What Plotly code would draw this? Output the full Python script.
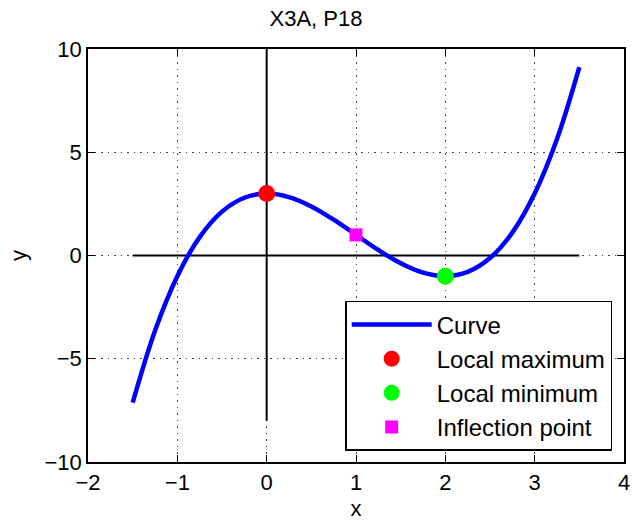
import plotly.graph_objects as go

curve_x = [-1.5, -1.25, -1.0, -0.75, -0.5, -0.25, 0.0, 0.25, 0.5, 0.75, 1.0,
           1.25, 1.5, 1.75, 2.0, 2.25, 2.5, 2.75, 3.0, 3.25, 3.5]
curve_y = [-7.125, -3.641, -1.0, 0.891, 2.125, 2.797, 3.0, 2.828, 2.375, 1.734, 1.0,
           0.266, -0.375, -0.828, -1.0, -0.797, -0.125, 1.109, 3.0, 5.641, 9.125]

hline_x = [-1.5, 3.5]
hline_y = [0, 0]
vline_x = [0, 0]
vline_y = [-8, 10]

max_x, max_y = [0], [3]
min_x, min_y = [2], [-1]
infl_x, infl_y = [1], [1]

x_ticks = [-2, -1, 0, 1, 2, 3, 4]
y_ticks = [-10, -5, 0, 5, 10]
x_ticklabels = ["\u22122", "\u22121", "0", "1", "2", "3", "4"]
y_ticklabels = ["\u221210", "\u22125", "0", "5", "10"]

font = "Liberation Sans, Arial, Helvetica, sans-serif"
fs = 22

fig = go.Figure()
fig.add_trace(go.Scatter(x=hline_x, y=hline_y, mode="lines",
                         line=dict(color="black", width=2), showlegend=False))
fig.add_trace(go.Scatter(x=vline_x, y=vline_y, mode="lines",
                         line=dict(color="black", width=2), showlegend=False))
fig.add_trace(go.Scatter(x=curve_x, y=curve_y, mode="lines", name="Curve",
                         line=dict(color="#0000ff", width=4.5, shape="spline")))
fig.add_trace(go.Scatter(x=max_x, y=max_y, mode="markers", name="Local maximum",
                         marker=dict(color="#ff0000", size=17, symbol="circle")))
fig.add_trace(go.Scatter(x=min_x, y=min_y, mode="markers", name="Local minimum",
                         marker=dict(color="#00ff00", size=17, symbol="circle")))
fig.add_trace(go.Scatter(x=infl_x, y=infl_y, mode="markers", name="Inflection point",
                         marker=dict(color="#ff00ff", size=13, symbol="square")))

axis_common = dict(
    showline=True, linecolor="black", linewidth=1.5, mirror="ticks",
    ticks="inside", ticklen=7, tickcolor="black", tickwidth=1,
    showgrid=True, gridcolor="#444444", griddash="1.5px,5px", gridwidth=1,
    zeroline=False, automargin=False,
    tickfont=dict(size=fs, color="black", family=font),
)

fig.update_layout(
    width=632, height=521,
    margin=dict(l=88, r=8, t=49, b=59),
    paper_bgcolor="white", plot_bgcolor="white",
    font=dict(family=font, color="black", size=fs),
    title=dict(text="X3A, P18", x=0.5, xanchor="center", y=0.965, yanchor="middle",
               font=dict(size=fs)),
    xaxis=dict(range=[-2, 4], tickvals=x_ticks, ticktext=x_ticklabels,
               title=dict(text="x", font=dict(size=fs), standoff=10), **axis_common),
    yaxis=dict(range=[-10, 10], tickvals=y_ticks, ticktext=y_ticklabels,
               title=dict(text="y", font=dict(size=fs), standoff=12), **axis_common),
    legend=dict(x=0.978, y=0.027, xanchor="right", yanchor="bottom",
                bgcolor="white", bordercolor="black", borderwidth=1.5,
                font=dict(size=24), tracegroupgap=0, itemwidth=80),
)

fig.write_html("out.html", config={"displayModeBar": False},
               post_script="document.body.style.margin='0';")
